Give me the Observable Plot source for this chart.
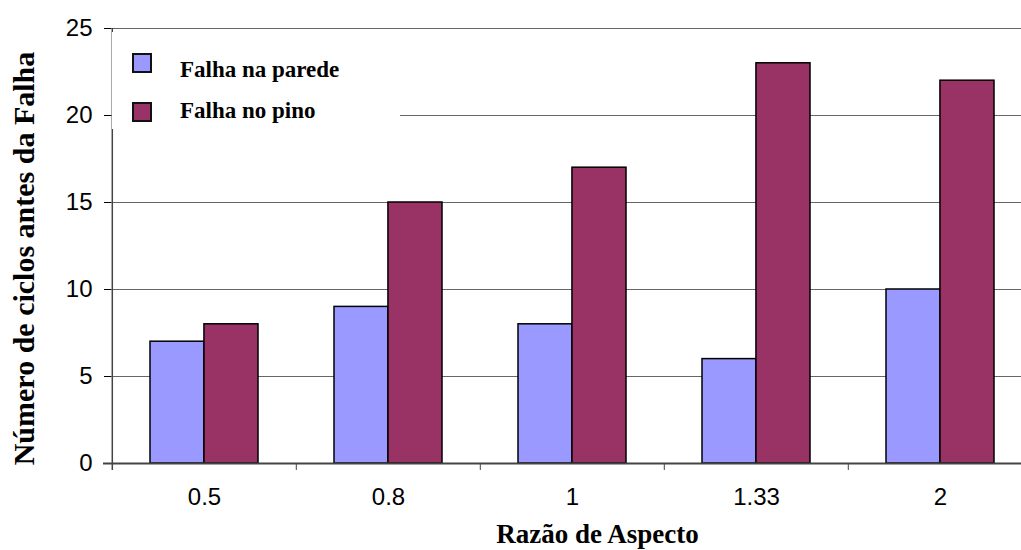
<!DOCTYPE html>
<html><head><meta charset="utf-8">
<script src="https://cdn.jsdelivr.net/npm/d3@7"></script>
<script src="https://cdn.jsdelivr.net/npm/@observablehq/plot@0.6"></script>
<style>
body{margin:0;background:#fff;overflow:hidden}
#wrap{position:relative;width:1021px;height:550px}
#legend{position:absolute;left:112px;top:32px;width:288px;height:97px;background:#fff;font-family:"Liberation Serif","Times New Roman",serif;font-weight:bold;font-size:23px;color:#000}
.sw{position:absolute;left:20px;width:16px;height:16px;border:2px solid #111}
.lt{position:absolute;left:68px;line-height:23px;white-space:nowrap}
</style></head><body>
<div id="wrap"></div>
<script>
const categories = ["0.5", "0.8", "1", "1.33", "2"];
const seriesNames = ["Falha na parede", "Falha no pino"];
const paredeValues = [7, 9, 8, 6, 10];
const pinoValues = [8, 15, 17, 23, 22];
const yTicks = [0, 5, 10, 15, 20, 25];
const colors = ["#9999FF", "#993366"];
const xTitle = "Razão de Aspecto";
const yTitle = "Número de ciclos antes da Falha";

const rows = categories.flatMap((c, i) => [
  {cat: c, series: seriesNames[0], value: paredeValues[i]},
  {cat: c, series: seriesNames[1], value: pinoValues[i]}
]);

const W = 1021, H = 550, mL = 111, mT = 28, mB = 87;
const xRange = [111, 1033];
const step = (xRange[1] - xRange[0]) / categories.length;
const padInner = 0.415;
const bw = step * (1 - padInner);

const chart = Plot.plot({
  width: W, height: H,
  marginLeft: mL, marginRight: 0, marginTop: mT, marginBottom: mB,
  style: {fontFamily: "'Liberation Sans', Arial, sans-serif", fontSize: "24px", color: "#000", background: "#fff"},
  x: {domain: categories, range: xRange, paddingInner: padInner, paddingOuter: padInner / 2, align: 0.5,
      tickSize: 0, tickPadding: 24, label: null},
  y: {domain: [0, 25], ticks: yTicks, tickSize: 7, tickPadding: 12, label: null},
  marks: [
    Plot.ruleY(yTicks.filter(t => t > 0), {stroke: "#666", strokeWidth: 1}),
    Plot.barY(rows.filter(d => d.series === seriesNames[0]), {x: "cat", y: "value", fill: colors[0], stroke: "#000", strokeWidth: 1.5, insetRight: bw / 2}),
    Plot.barY(rows.filter(d => d.series === seriesNames[1]), {x: "cat", y: "value", fill: colors[1], stroke: "#000", strokeWidth: 1.5, insetLeft: bw / 2}),
    Plot.ruleY([0], {stroke: "#444", strokeWidth: 2, insetLeft: -8}),
    Plot.ruleX(categories.slice(1), {x: d => d, y1: 0, y2: 0, dx: -step / 2, insetBottom: -7, stroke: "#444", strokeWidth: 1}),
    Plot.ruleX(categories.slice(0, 1), {x: d => d, y1: 25, y2: 0, dx: -step / 2, insetBottom: -7, stroke: "#444", strokeWidth: 1.5}),
    Plot.text([yTitle], {text: d => d, frameAnchor: "left", rotate: -90, dx: -87.6, dy: 12.5, fontSize: 30, fontWeight: "bold",
      fontFamily: "'Liberation Serif', 'Times New Roman', serif", lineAnchor: "middle", textAnchor: "middle", fill: "#000"}),
    Plot.text([xTitle], {text: d => d, frameAnchor: "bottom", dx: 31, dy: 71, fontSize: 27, fontWeight: "bold",
      fontFamily: "'Liberation Serif', 'Times New Roman', serif", lineAnchor: "middle", textAnchor: "middle", fill: "#000"})
  ]
});

const wrap = document.getElementById("wrap");
wrap.appendChild(chart);

const legend = document.createElement("div");
legend.id = "legend";
const swTops = [21, 70];
const txtTops = [25.5, 67];
seriesNames.forEach((name, i) => {
  const sw = document.createElement("div");
  sw.className = "sw";
  sw.style.top = swTops[i] + "px";
  sw.style.background = colors[i];
  legend.appendChild(sw);
  const t = document.createElement("div");
  t.className = "lt";
  t.style.top = txtTops[i] + "px";
  t.textContent = name;
  legend.appendChild(t);
});
wrap.appendChild(legend);
</script>
</body></html>
